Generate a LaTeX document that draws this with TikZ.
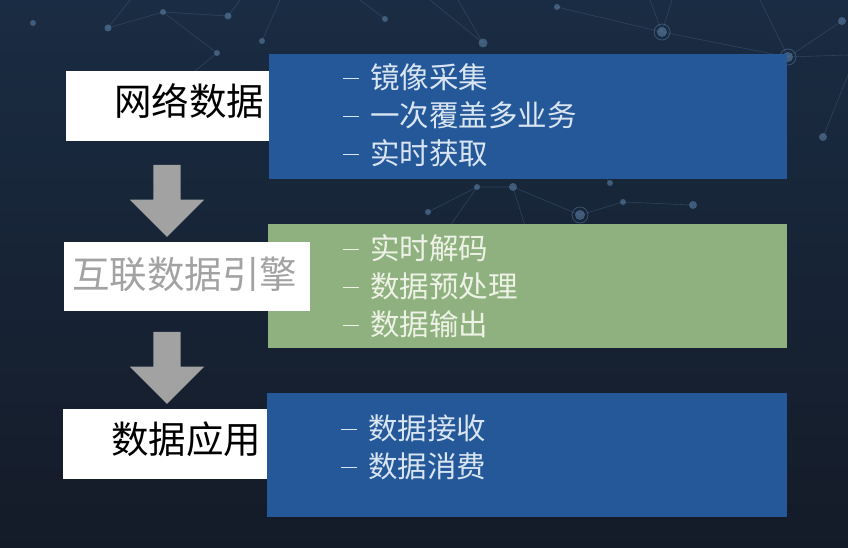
\documentclass[tikz,border=0pt]{standalone}
\usepackage{fontspec}
\newfontfamily\cjk{Noto Sans CJK SC}
\usetikzlibrary{shapes.arrows}
\definecolor{fondhaut}{HTML}{1A2C43}
\definecolor{fondbas}{HTML}{141B28}
\definecolor{bleuboite}{HTML}{255899}
\definecolor{vertboite}{HTML}{8FB17F}
\definecolor{grisfleche}{HTML}{A2A2A2}
\definecolor{texteclair}{HTML}{D9E5F2}
\definecolor{textevert}{HTML}{EEF2E6}
\definecolor{lignereseau}{HTML}{3B5570}
\definecolor{pointreseau}{HTML}{5A7EA3}
\newcommand{\tiret}{\rule[0.3em]{16pt}{1.4pt}\hspace{11pt}}
\tikzset{
	boite/.style={anchor=north west, inner sep=0pt, outer sep=0pt},
	titre/.style={font=\cjk\fontsize{37.5}{45}\selectfont, anchor=west, inner sep=0pt},
	liste/.style={font=\cjk\fontsize{29.5}{38}\selectfont, align=left, anchor=west, inner sep=0pt},
	fleche/.style={single arrow, fill=grisfleche, inner sep=13.5pt, minimum height=72pt,
		single arrow head extend=23.5pt, single arrow tip angle=90, rotate=-90},
	reseau/.style={draw=lignereseau, line width=0.6pt, opacity=0.6}
}
\begin{document}
\begin{tikzpicture}[x=1pt, y=-1pt]
			% le fond
			\useasboundingbox (0,0) rectangle (848,548);
			\shade[top color=fondhaut, bottom color=fondbas] (0,0) rectangle (848,548);
			% le reseau en arriere-plan
			\draw[reseau] (130,0) -- (108,28) -- (163,12) -- (228,16) -- (240,0);
			\draw[reseau] (163,12) -- (217,53) -- (190,75);
			\draw[reseau] (262,41) -- (280,0);
			\draw[reseau] (385,19) -- (360,0);
			\draw[reseau] (483,43) -- (430,0);
			\draw[reseau] (483,43) -- (458,0);
			\draw[reseau] (557,7) -- (662,32) -- (788,57) -- (842,21);
			\draw[reseau] (662,32) -- (650,0);
			\draw[reseau] (662,32) -- (672,0);
			\draw[reseau] (788,57) -- (848,55);
			\draw[reseau] (788,57) -- (760,0);
			\draw[reseau] (848,75) -- (823,137);
			\draw[reseau] (428,212) -- (477,187) -- (513,187) -- (580,215) -- (623,202) -- (693,205);
			\draw[reseau] (477,187) -- (450,226);
			\draw[reseau] (513,187) -- (525,226);
			\draw[reseau] (610,183) -- (600,170);
			\foreach \px/\py/\r in {33/23/3, 108/28/3.5, 163/12/3, 228/16/3.5, 217/53/3, 262/41/3,
				385/19/3, 483/43/4.5, 557/7/3, 662/32/5, 788/57/5, 842/21/4, 823/137/4,
				477/187/3, 513/187/4, 428/212/3, 580/215/5, 610/183/3, 623/202/3, 693/205/4}
				\fill[pointreseau, opacity=0.6] (\px,\py) circle (\r);
			\foreach \px/\py in {662/32, 788/57, 580/215}
				\draw[pointreseau, opacity=0.5, line width=0.8pt] (\px,\py) circle (8);
			% les boites de couleur
			\node[boite, fill=bleuboite, minimum width=518pt, minimum height=125pt] (capture) at (269,54) {};
			\node[boite, fill=vertboite, minimum width=519pt, minimum height=124pt] (moteurliste) at (268,224) {};
			\node[boite, fill=bleuboite, minimum width=520pt, minimum height=124pt] (usage) at (267,393) {};
			% les boites blanches
			\node[boite, fill=white, minimum width=203pt, minimum height=70pt] (reseaudata) at (66,71) {};
			\node[boite, fill=white, minimum width=246pt, minimum height=69pt] (moteur) at (64,242) {};
			\node[boite, fill=white, minimum width=204pt, minimum height=70pt] (appli) at (63,409) {};
			% les titres
			\node[titre, text=black] (t1) at (114,101) {网络数据};
			\node[titre, text=grisfleche] (t2) at (72,274) {互联数据引擎};
			\node[titre, text=black] (t3) at (111,439) {数据应用};
			% les listes
			\node[liste, text=texteclair] (l1) at (343,115) {\tiret 镜像采集\\\tiret 一次覆盖多业务\\\tiret 实时获取};
			\node[liste, text=textevert] (l2) at (343,286) {\tiret 实时解码\\\tiret 数据预处理\\\tiret 数据输出};
			\node[liste, text=texteclair] (l3) at (341,447) {\tiret 数据接收\\\tiret 数据消费};
			% les fleches
			\node[fleche] (f1) at (167,194) {};
			\node[fleche] (f2) at (167,361) {};
		\end{tikzpicture}
\end{document}
